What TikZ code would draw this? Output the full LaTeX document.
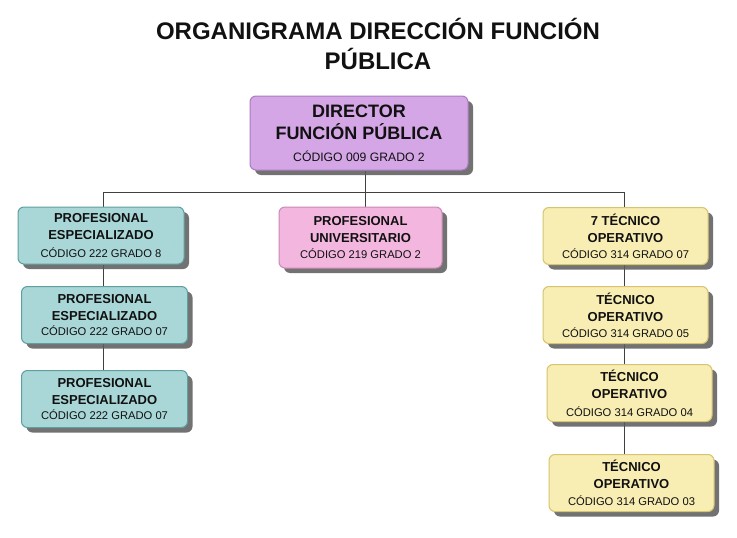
\documentclass[tikz,border=0pt]{standalone}
\usepackage{fontspec}
\setmainfont{Liberation Sans}
\usetikzlibrary{shadows,backgrounds}
\definecolor{lav}{HTML}{D4A6E6}
\definecolor{lavb}{HTML}{A97CC0}
\definecolor{teal}{HTML}{A9D6D7}
\definecolor{tealb}{HTML}{5E9FA0}
\definecolor{pinkf}{HTML}{F3B6DE}
\definecolor{pinkb}{HTML}{C98AB5}
\definecolor{yel}{HTML}{F8EDB2}
\definecolor{yelb}{HTML}{D6C46E}
\definecolor{shd}{HTML}{5A5A5A}
\definecolor{ink}{HTML}{111111}
\tikzset{
  box/.style={rounded corners=6pt, line width=1pt, align=center, inner sep=0pt,
    text=ink, font=\fontsize{13}{17}\selectfont\bfseries,
    drop shadow={shadow xshift=5pt, shadow yshift=-5pt, fill=shd, opacity=0.85}},
  dirbox/.style={box, fill=lav, draw=lavb, minimum width=218pt, minimum height=74pt,
    font=\fontsize{18}{22}\selectfont\bfseries},
  lbox/.style={box, fill=teal, draw=tealb, minimum width=166pt, minimum height=57pt},
  mbox/.style={box, fill=pinkf, draw=pinkb, minimum width=163pt, minimum height=61pt},
  rbox/.style={box, fill=yel, draw=yelb, minimum width=165pt, minimum height=57pt},
  link/.style={draw=black!75, line width=0.9pt},
}
\newcommand{\ct}{\fontsize{11.2}{14}\selectfont\mdseries}
\newcommand{\dct}{\fontsize{12.2}{15}\selectfont\mdseries}
\begin{document}
\begin{tikzpicture}[x=1pt,y=-1pt]
\path[use as bounding box] (0,0) rectangle (737,538);
\node[font=\fontsize{24}{30}\selectfont\bfseries, align=center, text=ink] (title) at (378,44)
  {ORGANIGRAMA DIRECCIÓN FUNCIÓN\\PÚBLICA};
\node[dirbox] (dir) at (359,133) {DIRECTOR\\FUNCIÓN PÚBLICA\\\dct CÓDIGO 009 GRADO 2};
\node[lbox] (l1) at (101,235.5) {PROFESIONAL\\ESPECIALIZADO\\[1pt]\ct CÓDIGO 222 GRADO 8};
\node[lbox] (l2) at (104.5,315) {PROFESIONAL\\ESPECIALIZADO\\[-2pt]\ct CÓDIGO 222 GRADO 07};
\node[lbox] (l3) at (104.5,399) {PROFESIONAL\\ESPECIALIZADO\\[-2pt]\ct CÓDIGO 222 GRADO 07};
\node[mbox] (m) at (360.5,237.5) {PROFESIONAL\\UNIVERSITARIO\\[-1pt]\ct CÓDIGO 219 GRADO 2};
\node[rbox] (r1) at (625.5,236) {7 TÉCNICO\\OPERATIVO\\[-1pt]\ct CÓDIGO 314 GRADO 07};
\node[rbox] (r2) at (625.5,315) {TÉCNICO\\OPERATIVO\\[-1pt]\ct CÓDIGO 314 GRADO 05};
\node[rbox] (r3) at (629.5,393) {TÉCNICO\\OPERATIVO\\[1pt]\ct CÓDIGO 314 GRADO 04};
\node[rbox] (r4) at (631.5,483) {TÉCNICO\\OPERATIVO\\\ct CÓDIGO 314 GRADO 03};
\coordinate (bus) at (365,192);
\coordinate (lx) at (103,192);
\coordinate (rx) at (624,192);
\begin{scope}[on background layer]
\fill[white] (0,0) rectangle (737,538);
\draw[link] (bus |- dir.south) -- (bus);
\draw[link] (lx) -- (rx);
\draw[link] (lx) -- (lx |- l1.north);
\draw[link] (bus) -- (bus |- m.north);
\draw[link] (rx) -- (rx |- r1.north);
\draw[link] (lx |- l1.south) -- (lx |- l2.north);
\draw[link] (lx |- l2.south) -- (lx |- l3.north);
\draw[link] (rx |- r1.south) -- (rx |- r2.north);
\draw[link] (rx |- r2.south) -- (rx |- r3.north);
\draw[link] (rx |- r3.south) -- (rx |- r4.north);
\end{scope}
\end{tikzpicture}
\end{document}
